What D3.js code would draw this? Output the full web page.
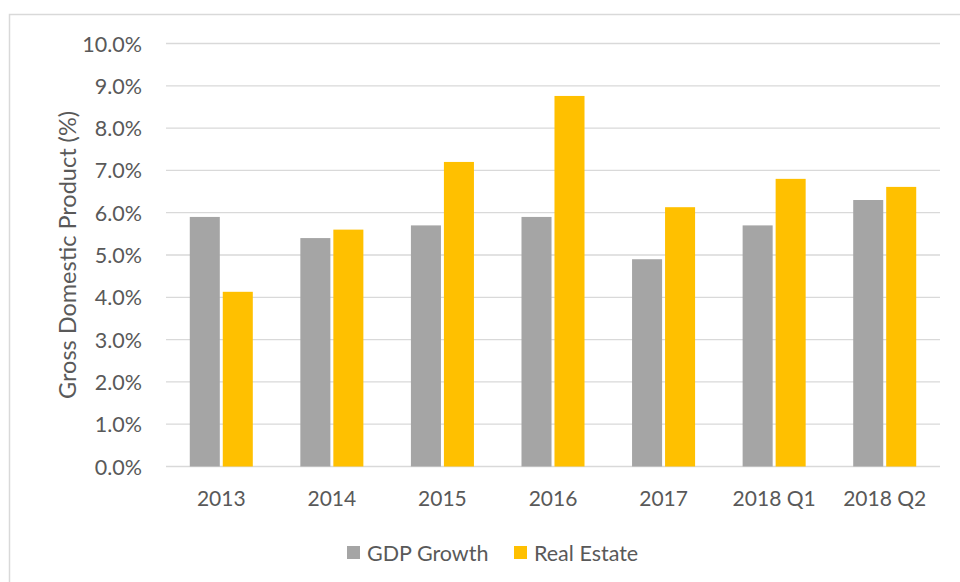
<!DOCTYPE html>
<html>
<head>
<meta charset="utf-8">
<script src="https://cdn.jsdelivr.net/npm/d3@7/dist/d3.min.js"></script>
<style>
  html, body { margin: 0; padding: 0; background: #fff; }
  svg { display: block; }
  text { font-family: Lato, "Open Sans", sans-serif; fill: #595959; }
</style>
</head>
<body>
<div id="chart"></div>
<script>
const categories = ["2013", "2014", "2015", "2016", "2017", "2018 Q1", "2018 Q2"];
const gdpGrowth = [5.9, 5.4, 5.7, 5.9, 4.9, 5.7, 6.3];
const realEstate = [4.13, 5.6, 7.2, 8.76, 6.13, 6.8, 6.61];
const seriesNames = ["GDP Growth", "Real Estate"];
const seriesColors = ["#a5a5a5", "#ffc000"];
const yTicks = [0, 1, 2, 3, 4, 5, 6, 7, 8, 9, 10];

const W = 960, H = 582;
const plot = { left: 166, right: 940, top: 43.5, bottom: 466.5 };

const svg = d3.select("#chart").append("svg").attr("width", W).attr("height", H);

// chart area border (top & left visible)
svg.append("rect")
  .attr("x", 9.5).attr("y", 14.5)
  .attr("width", W + 20).attr("height", H + 20)
  .attr("fill", "none").attr("stroke", "#d9d9d9").attr("stroke-width", 1.5);

const y = d3.scaleLinear().domain([0, 10]).range([plot.bottom, plot.top]);
const x0 = d3.scaleBand().domain(categories).range([plot.left, plot.right])
  .paddingInner(0.43).paddingOuter(0.215);
const x1 = d3.scaleBand().domain(seriesNames).range([0, x0.bandwidth()]).paddingInner(0.09);

// gridlines
svg.append("g").selectAll("line").data(yTicks).join("line")
  .attr("x1", plot.left).attr("x2", plot.right)
  .attr("y1", d => y(d)).attr("y2", d => y(d))
  .attr("stroke", "#d9d9d9").attr("stroke-width", 1.3);

// y tick labels
svg.append("g").selectAll("text").data(yTicks).join("text")
  .attr("x", 142).attr("y", d => y(d))
  .attr("text-anchor", "end").attr("dominant-baseline", "central")
  .style("font-size", "21.5px")
  .text(d => d3.format(".1f")(d) + "%");

// bars
const data = categories.map((c, i) => ({ cat: c, values: [gdpGrowth[i], realEstate[i]] }));
const groups = svg.append("g").selectAll("g").data(data).join("g")
  .attr("transform", d => `translate(${x0(d.cat)},0)`);
groups.selectAll("rect").data(d => d.values.map((v, j) => ({ name: seriesNames[j], v, j })))
  .join("rect")
  .attr("x", d => x1(d.name))
  .attr("width", x1.bandwidth())
  .attr("y", d => y(d.v))
  .attr("height", d => y(0) - y(d.v))
  .attr("fill", d => seriesColors[d.j]);

// x labels
svg.append("g").selectAll("text").data(categories).join("text")
  .attr("x", d => x0(d) + x0.bandwidth() / 2)
  .attr("y", 497)
  .attr("text-anchor", "middle").attr("dominant-baseline", "central")
  .style("font-size", "21px")
  .text(d => d);

// y axis title
svg.append("text")
  .attr("transform", `translate(67,${(plot.top + plot.bottom) / 2}) rotate(-90)`)
  .attr("text-anchor", "middle").attr("dominant-baseline", "central")
  .style("font-size", "23.5px")
  .text("Gross Domestic Product (%)");

// legend
const legendX = [347, 514];
const lg = svg.append("g").selectAll("g").data(seriesNames).join("g")
  .attr("transform", (d, i) => `translate(${legendX[i]},546)`);
lg.append("rect").attr("width", 13).attr("height", 13).attr("fill", (d, i) => seriesColors[i]);
lg.append("text").attr("x", 20).attr("y", 6.5).attr("dominant-baseline", "central")
  .style("font-size", "21.5px").text(d => d);
</script>
</body>
</html>
